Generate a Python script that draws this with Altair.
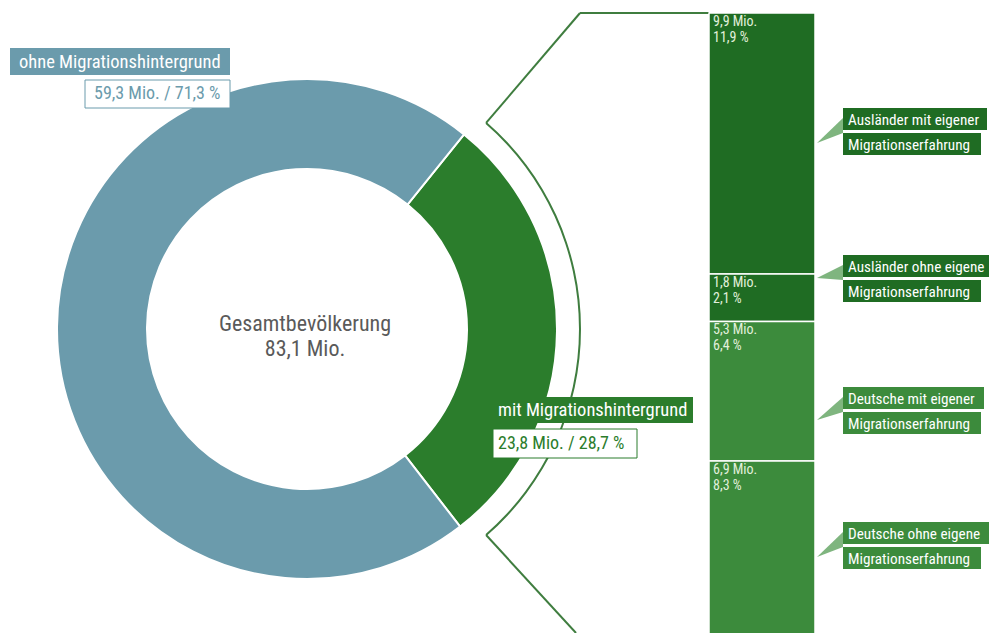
import math
import altair as alt
import pandas as pd

# ---------------- data ----------------
donut_labels = ["mit Migrationshintergrund", "ohne Migrationshintergrund"]
donut_mio = [23.8, 59.3]
donut_pct = [28.7, 71.3]
total_label = "Gesamtbevölkerung"
total_mio = 83.1

bar_groups = [
    "Ausländer mit eigener Migrationserfahrung",
    "Ausländer ohne eigene Migrationserfahrung",
    "Deutsche mit eigener Migrationserfahrung",
    "Deutsche ohne eigene Migrationserfahrung",
]
bar_line1 = ["Ausländer mit eigener", "Ausländer ohne eigene",
             "Deutsche mit eigener", "Deutsche ohne eigene"]
bar_line2 = "Migrationserfahrung"
bar_mio = [9.9, 1.8, 5.3, 6.9]
bar_pct = [11.9, 2.1, 6.4, 8.3]

# ---------------- style / layout ----------------
BLUE = "#6b9bac"
GREEN = "#2b7d2c"
DARK = "#1f6c23"
LIGHT = "#3c8b3c"
POINTER = "#7fb57f"
LINE = "#3f7d3f"
FONT = "'Roboto Condensed', 'Liberation Sans Narrow', 'Arial Narrow', Roboto, sans-serif"

W, H = 982, 625
CX, CY = 299, 321
R_OUT, R_IN = 250, 160
BR = 273


def de(v):
    return f"{v:.1f}".replace(".", ",")


one = pd.DataFrame({"a": [0]})

# ---------------- donut ----------------
donut_df = pd.DataFrame({"label": donut_labels, "pct": donut_pct, "ord": [0, 1]})
start = math.pi / 2 - donut_pct[0] / 100 * math.pi + 0.01
donut = alt.Chart(donut_df).mark_arc(
    radius=R_OUT, radius2=R_IN, stroke="white", strokeWidth=2
).encode(
    theta=alt.Theta("pct:Q", stack=True,
                    scale=alt.Scale(range=[start, start + 2 * math.pi])),
    color=alt.Color("label:N", scale=alt.Scale(domain=donut_labels, range=[GREEN, BLUE]),
                    legend=None),
    order=alt.Order("ord:Q"),
    x=alt.value(CX), y=alt.value(CY),
)

# ---------------- stacked bar ----------------
ends = []
acc = 0
starts = []
for v in bar_mio:
    starts.append(acc)
    acc += v
    ends.append(acc)
bar_df = pd.DataFrame({
    "group": bar_groups, "start": starts, "end": ends,
    "label": [f"{de(m)} Mio.\n{de(p)} %" for m, p in zip(bar_mio, bar_pct)],
})
yscale = alt.Scale(domain=[0, acc], range=[5, 635], nice=False, zero=False)
BX1, BX2 = 701, 807
bar = alt.Chart(bar_df).mark_rect(stroke="white", strokeWidth=1.5).encode(
    x=alt.value(BX1), x2=alt.value(BX2),
    y=alt.Y("start:Q", scale=yscale, axis=None), y2="end:Q",
    color=alt.Color("group:N", scale=alt.Scale(domain=bar_groups,
                                               range=[DARK, DARK, LIGHT, LIGHT]),
                    legend=None),
)
bar_text = alt.Chart(bar_df).mark_text(
    align="left", baseline="top", dy=2, lineBreak="\n", lineHeight=16,
    font=FONT, fontSize=14, color="#e2f0dc"
).encode(
    x=alt.value(BX1 + 4), y=alt.Y("start:Q", scale=yscale, axis=None), text="label:N"
)

# ---------------- bracket ----------------
t1, t2 = math.radians(41), math.radians(139)
bracket_arc = alt.Chart(one).mark_arc(
    radius=BR + 1, radius2=BR - 1, theta=t1, theta2=t2, color=LINE
).encode(x=alt.value(CX), y=alt.value(CY))
p1 = (CX + BR * math.sin(t1), CY - BR * math.cos(t1))
p2 = (CX + BR * math.sin(t2), CY - BR * math.cos(t2))
segs = [
    (p1[0], p1[1], 572, 5),
    (572, 5, BX1, 5),
    (p2[0], p2[1], 568, 625),
]
bracket_lines = [
    alt.Chart(one).mark_rule(color=LINE, strokeWidth=2).encode(
        x=alt.value(a), y=alt.value(b), x2=alt.value(c), y2=alt.value(d))
    for a, b, c, d in segs
]


def box(x1, y1, x2, y2, fill, stroke=None):
    kw = dict(fill=fill)
    if stroke:
        kw.update(stroke=stroke, strokeWidth=1)
    return alt.Chart(one).mark_rect(**kw).encode(
        x=alt.value(x1), x2=alt.value(x2), y=alt.value(y1), y2=alt.value(y2))


def label(text, x, y, size, color, align="left", baseline="middle"):
    return alt.Chart(one).mark_text(
        align=align, baseline=baseline, font=FONT, fontSize=size, color=color
    ).encode(x=alt.value(x), y=alt.value(y), text=alt.value(text))


layers = [donut, bracket_arc] + bracket_lines + [bar, bar_text]

# center text
layers.append(label(total_label, CX - 2, 323, 22, "#5a5a5a", align="center",
                    baseline="alphabetic"))
layers.append(label(f"{de(total_mio)} Mio.", CX - 2, 348, 22, "#5a5a5a",
                    align="center", baseline="alphabetic"))

# left label (ohne)
layers.append(box(2, 40, 222, 67, BLUE))
layers.append(label(donut_labels[1], 11, 54, 18.5, "white"))
layers.append(box(77, 72, 222, 100, "white", BLUE))
layers.append(label(f"{de(donut_mio[1])} Mio. / {de(donut_pct[1])} %", 86, 86, 18, BLUE))

# right label (mit)
layers.append(box(485, 389, 685, 415, GREEN))
layers.append(label(donut_labels[0], 490, 402, 18.5, "white"))
layers.append(box(485, 421, 629, 450, "white", GREEN))
layers.append(label(f"{de(donut_mio[0])} Mio. / {de(donut_pct[0])} %", 490, 435.5, 18, GREEN))

# callouts
tops = [100, 247, 379, 514]
tips = [135, 270, 412, 549]
w1 = [144, 146, 141, 146]
fills = [DARK, DARK, LIGHT, LIGHT]
s = 16
for top, tip, w, f, l1 in zip(tops, tips, w1, fills, bar_line1):
    b1, b2 = top + 10, top + 25
    cy = (min(b1, tip) + max(b2, tip)) / 2
    cx = 822
    path = (f"M {(BX2 + 2 - cx) / s:.4f} {(tip - cy) / s:.4f} "
            f"L {(835 - cx) / s:.4f} {(b1 - cy) / s:.4f} "
            f"L {(835 - cx) / s:.4f} {(b2 - cy) / s:.4f} Z")
    layers.append(alt.Chart(one).mark_point(
        shape=path, size=(2 * s) ** 2, filled=True, fill=POINTER, opacity=1, strokeWidth=0
    ).encode(x=alt.value(cx), y=alt.value(cy)))
    layers.append(box(835, top, 835 + w, top + 22, f))
    layers.append(label(l1, 840, top + 11.5, 15.2, "white"))
    layers.append(box(835, top + 25, 835 + 138, top + 47, f))
    layers.append(label(bar_line2, 840, top + 36.5, 15.2, "white"))

chart = alt.layer(*layers).resolve_scale(color="independent").properties(
    width=W, height=H, padding=0, autosize="none", background="white"
).configure_view(stroke=None)

chart.save("out.html", embed_options={"renderer": "svg", "actions": False})
